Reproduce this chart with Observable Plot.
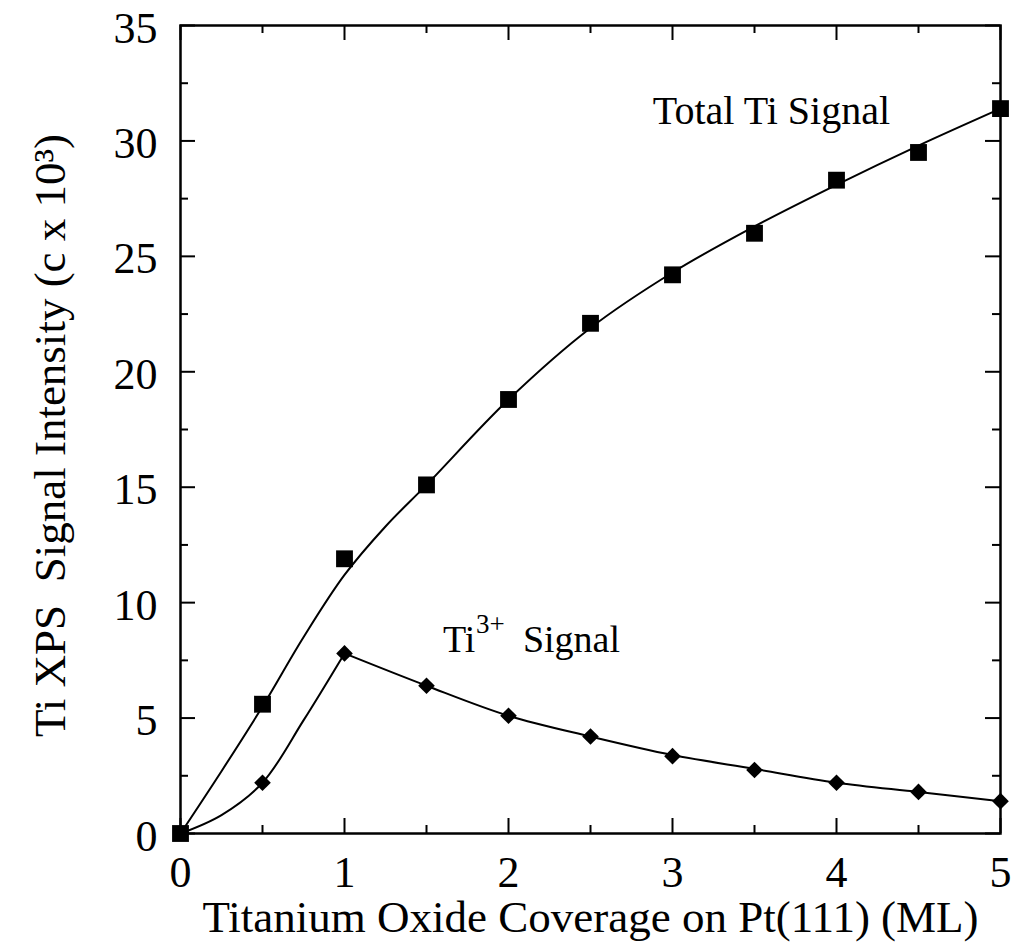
<!DOCTYPE html>
<html>
<head>
<meta charset="utf-8">
<script src="https://cdn.jsdelivr.net/npm/d3@7"></script>
<script src="https://cdn.jsdelivr.net/npm/@observablehq/plot@0.6"></script>
<style>
  html, body { margin: 0; padding: 0; background: #fff; }
  #chart { width: 1011px; height: 949px; }
</style>
</head>
<body>
<div id="chart"></div>
<script>
// ---- data ----
const coverage = [0, 0.5, 1, 1.5, 2, 2.5, 3, 3.5, 4, 4.5, 5];
const totalTi = [0, 5.6, 11.9, 15.1, 18.8, 22.1, 24.2, 26.0, 28.3, 29.5, 31.4];
const ti3 = [0, 2.2, 7.8, 6.4, 5.1, 4.2, 3.35, 2.75, 2.2, 1.8, 1.4];

// fitted curves
const totalFitX = [0, 0.25, 0.5, 0.75, 1, 1.25, 1.5, 2, 2.5, 3, 3.5, 4, 4.5, 5];
const totalFitY = [0, 2.7, 5.5, 8.5, 11.2, 13.3, 15.1, 18.8, 21.9, 24.3, 26.3, 28.1, 29.8, 31.4];
const ti3RiseX = [0, 0.25, 0.5, 0.75, 1];
const ti3RiseY = [0, 0.8, 2.2, 4.9, 7.8];
const ti3FallX = [1, 1.5, 2, 2.5, 3, 3.5, 4, 4.5, 5];
const ti3FallY = [7.8, 6.4, 5.1, 4.2, 3.4, 2.8, 2.2, 1.8, 1.4];

const xMajor = [0, 1, 2, 3, 4, 5];
const xMinor = [0.5, 1.5, 2.5, 3.5, 4.5];
const yMajor = [0, 5, 10, 15, 20, 25, 30, 35];
const yMinor = [2.5, 7.5, 12.5, 17.5, 22.5, 27.5, 32.5];

const xTitle = "Titanium Oxide Coverage on Pt(111) (ML)";
const yTitle = "Ti XPS\u00a0 Signal Intensity (c x 10³)";

// ---- build ----
const W = 1011, H = 949;
const mL = 180, mR = 11, mT = 25, mB = 116;
const pw = W - mL - mR, ph = H - mT - mB;
const majorLen = 15, minorLen = 8;

const pts = (xs, ys) => xs.map((x, i) => ({x, y: ys[i]}));
const totalPts = pts(coverage, totalTi);
const ti3Pts = pts(coverage, ti3);

const font = "'Liberation Serif', 'Times New Roman', Times, serif";

const chart = Plot.plot({
  width: W, height: H,
  marginLeft: mL, marginRight: mR, marginTop: mT, marginBottom: mB,
  style: {fontFamily: font, fontSize: "44px", color: "#000", background: "#fff", overflow: "visible"},
  x: {domain: [0, 5], axis: null},
  y: {domain: [0, 35], axis: null},
  marks: [
    // inward ticks
    Plot.tickX(xMajor, {x: d => d, insetTop: ph - majorLen, strokeWidth: 2}),
    Plot.tickX(xMinor, {x: d => d, insetTop: ph - minorLen, strokeWidth: 2}),
    Plot.tickX(xMajor, {x: d => d, insetBottom: ph - majorLen, strokeWidth: 2}),
    Plot.tickX(xMinor, {x: d => d, insetBottom: ph - minorLen, strokeWidth: 2}),
    Plot.tickY(yMajor, {y: d => d, insetRight: pw - majorLen, strokeWidth: 2}),
    Plot.tickY(yMinor, {y: d => d, insetRight: pw - minorLen, strokeWidth: 2}),
    Plot.tickY(yMajor, {y: d => d, insetLeft: pw - majorLen, strokeWidth: 2}),
    Plot.tickY(yMinor, {y: d => d, insetLeft: pw - minorLen, strokeWidth: 2}),
    Plot.frame({stroke: "#000", strokeWidth: 2.5}),
    // tick labels
    Plot.axisX(xMajor, {tickSize: 0, tickPadding: 22, fontSize: 44, label: null, tickFormat: d => String(d)}),
    Plot.axisY(yMajor, {tickSize: 0, tickPadding: 23, fontSize: 44, label: null, tickFormat: d => String(d), dy: 3}),
    // axis titles
    Plot.text([xTitle], {text: d => d, frameAnchor: "bottom", dy: 84, lineAnchor: "middle", fontSize: 45}),
    Plot.text([yTitle], {text: d => d, frameAnchor: "left", dx: -130, dy: 6, rotate: -90, textAnchor: "middle", lineAnchor: "middle", fontSize: 45}),
    // fitted curves
    Plot.line(pts(totalFitX, totalFitY), {x: "x", y: "y", curve: "catmull-rom", stroke: "#000", strokeWidth: 2}),
    Plot.line(pts(ti3RiseX, ti3RiseY), {x: "x", y: "y", curve: "catmull-rom", stroke: "#000", strokeWidth: 2}),
    Plot.line(pts(ti3FallX, ti3FallY), {x: "x", y: "y", curve: "catmull-rom", stroke: "#000", strokeWidth: 2}),
    // data points
    Plot.dot(totalPts, {x: "x", y: "y", symbol: "square", r: 9.5, fill: "#000", stroke: "none"}),
    Plot.dot(ti3Pts.slice(1), {x: "x", y: "y", symbol: "diamond2", r: 7.5, fill: "#000", stroke: "none"}),
    // annotations
    Plot.text(["Total Ti Signal"], {x: 2.88, y: 31.3, text: d => d, textAnchor: "start", lineAnchor: "middle", fontSize: 40}),
    Plot.text(["Ti"], {x: 1.6, y: 8.4, text: d => d, textAnchor: "start", lineAnchor: "middle", fontSize: 38}),
    Plot.text(["3+"], {x: 1.6, y: 8.4, text: d => d, textAnchor: "start", lineAnchor: "middle", fontSize: 27, dx: 33, dy: -15}),
    Plot.text(["Signal"], {x: 1.6, y: 8.4, text: d => d, textAnchor: "start", lineAnchor: "middle", fontSize: 38, dx: 80})
  ]
});
document.getElementById("chart").appendChild(chart);
</script>
</body>
</html>
